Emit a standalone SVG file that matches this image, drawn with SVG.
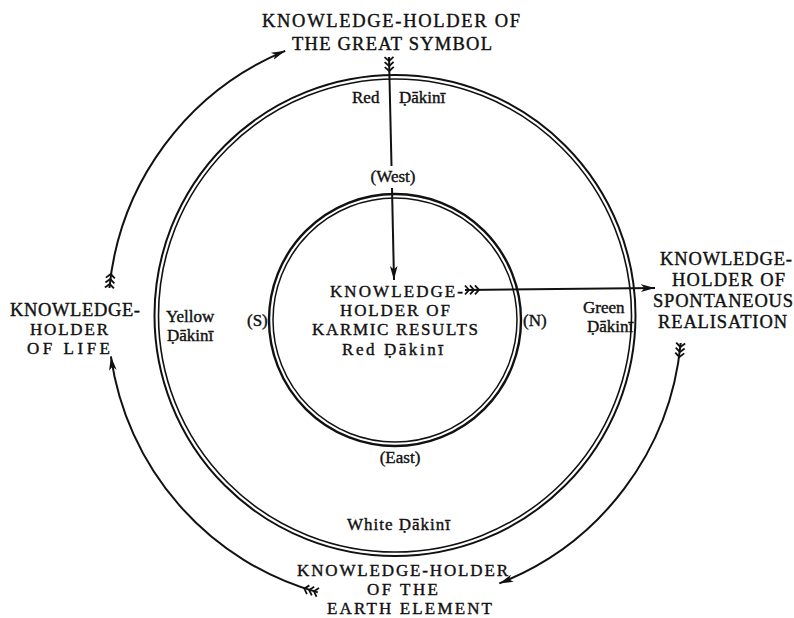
<svg xmlns="http://www.w3.org/2000/svg" width="794" height="618" viewBox="0 0 794 618">
<style>
text{font-family:"Liberation Serif","DejaVu Serif",serif;fill:#111;stroke:#111;stroke-width:0.4}
.cap{font-size:17px}
.big{font-size:18.5px}
.sm{font-size:17px}
.ring{fill:none;stroke:#111}
.con{fill:none;stroke:#111;stroke-width:2}
</style>
<defs>
<marker id="head" markerUnits="userSpaceOnUse" markerWidth="16" markerHeight="10" refX="14" refY="5" orient="auto"><path d="M0,1.2 L14,5 L0,8.8 L3.5,5 Z" fill="#111"/></marker>
<marker id="tail" markerUnits="userSpaceOnUse" markerWidth="18" markerHeight="12" refX="1" refY="6" orient="auto"><path d="M1,1.5 L5,6 L1,10.5 M6,1.5 L10,6 L6,10.5 M11,1.5 L15,6 L11,10.5" fill="none" stroke="#111" stroke-width="1.8"/></marker>
</defs>
<rect width="794" height="618" fill="#fff"/>
<g id="outer-ring">
<circle class="ring" cx="395" cy="315.5" r="240.5" stroke-width="2"/>
<circle class="ring" cx="395" cy="315.5" r="236.5" stroke-width="1.6"/>
</g>
<g id="inner-ring">
<circle class="ring" cx="395" cy="320" r="126" stroke-width="2.4"/>
<circle class="ring" cx="395" cy="320" r="122" stroke-width="1.5"/>
</g>
<g id="connectors">
<path class="con" d="M389,57 L391.5,166" marker-start="url(#tail)"/>
<path class="con" d="M392,188 L394,280" marker-end="url(#head)"/>
<path class="con" d="M465,290 L655,288" marker-start="url(#tail)" marker-end="url(#head)"/>
<path class="con" d="M109.4,288 A287,287 0 0 1 285.2,50.8" marker-start="url(#tail)" marker-end="url(#head)"/>
<path class="con" d="M317.8,592.4 A287,287 0 0 1 110.9,356.4" marker-start="url(#tail)" marker-end="url(#head)"/>
<path class="con" d="M680.7,343 A287,287 0 0 1 499.3,583.4" marker-start="url(#tail)" marker-end="url(#head)"/>
</g>
<g id="great-symbol">
<text class="big" x="262" y="27" textLength="258" lengthAdjust="spacing">KNOWLEDGE-HOLDER OF</text>
<text class="big" x="292" y="50" textLength="200" lengthAdjust="spacing">THE GREAT SYMBOL</text>
</g>
<g id="red-dakini-outer">
<text class="sm" x="352" y="103">Red</text>
<text class="sm" x="399" y="103">Ḍākinī</text>
</g>
<g id="west"><text class="sm" x="393" y="182" text-anchor="middle">(West)</text></g>
<g id="karmic-results">
<text class="cap" x="330" y="297" textLength="133" lengthAdjust="spacing">KNOWLEDGE-</text>
<text class="cap" x="340" y="316" textLength="110" lengthAdjust="spacing">HOLDER OF</text>
<text class="cap" x="312" y="335" textLength="166" lengthAdjust="spacing">KARMIC RESULTS</text>
<text class="sm" x="342" y="355" textLength="101" lengthAdjust="spacing">Red  Ḍākinī</text>
</g>
<g id="south"><text class="sm" x="247" y="326">(S)</text></g>
<g id="north"><text class="sm" x="523" y="326">(N)</text></g>
<g id="east"><text class="sm" x="400" y="463" text-anchor="middle">(East)</text></g>
<g id="yellow-dakini">
<text class="sm" x="166" y="322">Yellow</text>
<text class="sm" x="167" y="341">Ḍākinī</text>
</g>
<g id="green-dakini">
<text class="sm" x="583" y="313">Green</text>
<text class="sm" x="587" y="332">Ḍākinī</text>
</g>
<g id="white-dakini"><text class="sm" x="347" y="530" textLength="103" lengthAdjust="spacing">White Ḍākinī</text></g>
<g id="life">
<text class="big" x="10" y="316" textLength="130" lengthAdjust="spacing">KNOWLEDGE-</text>
<text class="cap" x="30" y="335" textLength="78" lengthAdjust="spacing">HOLDER</text>
<text class="cap" x="27" y="354" textLength="83" lengthAdjust="spacing">OF LIFE</text>
</g>
<g id="spontaneous-realisation">
<text class="big" x="660" y="265" textLength="132" lengthAdjust="spacing">KNOWLEDGE-</text>
<text class="big" x="672" y="286" textLength="113" lengthAdjust="spacing">HOLDER OF</text>
<text class="big" x="653" y="307" textLength="140" lengthAdjust="spacing">SPONTANEOUS</text>
<text class="big" x="658" y="328" textLength="129" lengthAdjust="spacing">REALISATION</text>
</g>
<g id="earth-element">
<text class="cap" x="297" y="576" textLength="211" lengthAdjust="spacing">KNOWLEDGE-HOLDER</text>
<text class="cap" x="367" y="595" textLength="71" lengthAdjust="spacing">OF THE</text>
<text class="cap" x="327" y="614" textLength="165" lengthAdjust="spacing">EARTH ELEMENT</text>
</g>
</svg>
